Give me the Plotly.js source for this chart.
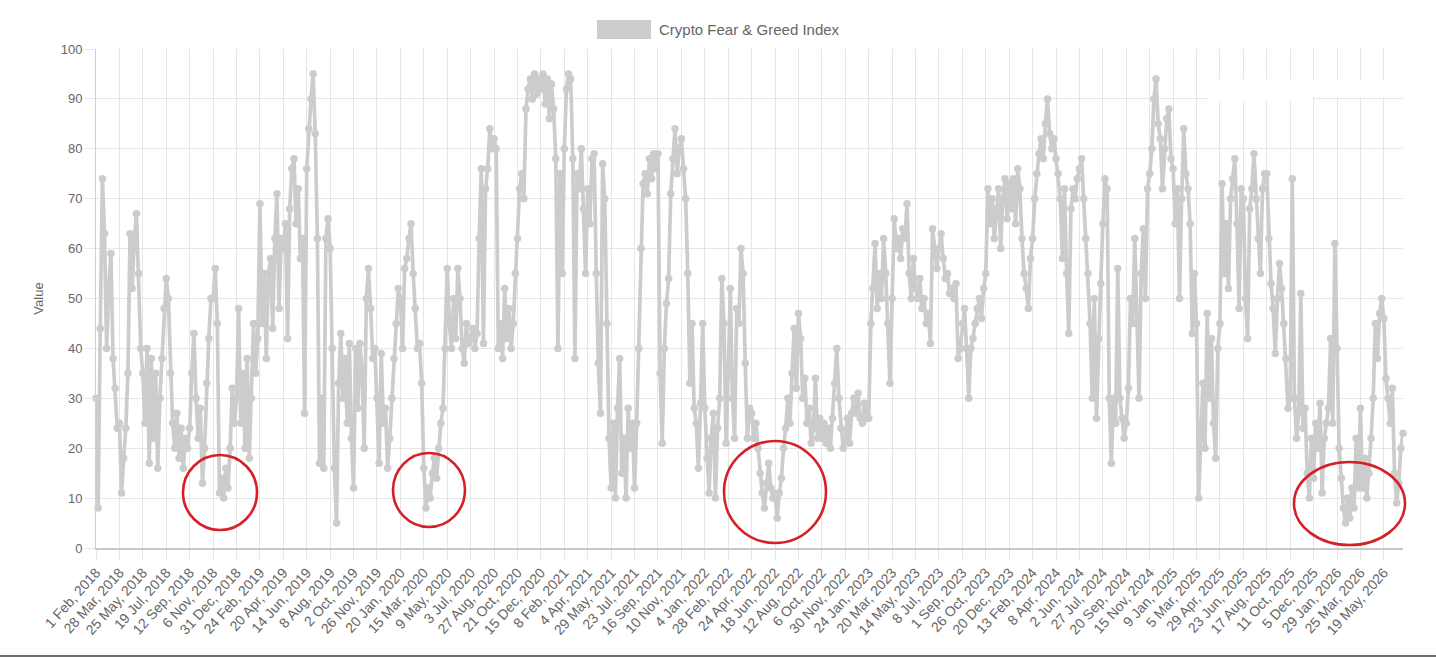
<!DOCTYPE html>
<html>
<head>
<meta charset="utf-8">
<script src="https://cdn.plot.ly/plotly-3.0.1.min.js"></script>
<style>
html,body{margin:0;padding:0;background:#fff;}
#chart{width:1436px;height:657px;}
</style>
</head>
<body>
<div id="chart"></div>
<script>
// Tick labels (one every 55 daily points)
const tickLabels = [
 "1 Feb, 2018","28 Mar, 2018","25 May, 2018","19 Jul, 2018","12 Sep, 2018","6 Nov, 2018","31 Dec, 2018",
 "24 Feb, 2019","20 Apr, 2019","14 Jun, 2019","8 Aug, 2019","2 Oct, 2019","26 Nov, 2019",
 "20 Jan, 2020","15 Mar, 2020","9 May, 2020","3 Jul, 2020","27 Aug, 2020","21 Oct, 2020","15 Dec, 2020",
 "8 Feb, 2021","4 Apr, 2021","29 May, 2021","23 Jul, 2021","16 Sep, 2021","10 Nov, 2021",
 "4 Jan, 2022","28 Feb, 2022","24 Apr, 2022","18 Jun, 2022","12 Aug, 2022","6 Oct, 2022","30 Nov, 2022",
 "24 Jan, 2023","20 Mar, 2023","14 May, 2023","8 Jul, 2023","1 Sep, 2023","26 Oct, 2023","20 Dec, 2023",
 "13 Feb, 2024","8 Apr, 2024","2 Jun, 2024","27 Jul, 2024","20 Sep, 2024","15 Nov, 2024",
 "9 Jan, 2025","5 Mar, 2025","29 Apr, 2025","23 Jun, 2025","17 Aug, 2025","11 Oct, 2025","5 Dec, 2025",
 "29 Jan, 2026","25 Mar, 2026","19 May, 2026"
];
const pointsPerTick = 55;   // daily points between labelled ticks
const sampleStep = 5;       // values below are read every 5th day
const lastPoint = 3070;     // index of the last daily point

// Index value, every 5 days (11 readings per tick interval)
const values2018 = [
 30, 8, 44, 74, 63, 40, 52, 59, 38, 32, 24,
 25, 11, 18, 24, 35, 63, 52, 62, 67, 55, 40,
 35, 25, 40, 17, 38, 22, 35, 16, 30, 38, 48,
 54, 50, 35, 25, 20, 27, 18, 24, 16, 22, 20,
 24, 35, 43, 30, 22, 28, 13, 20, 33, 42, 50,
 50, 56, 45, 11, 14, 10, 16, 12, 20, 32, 25,
 30, 48, 25, 35, 20, 38, 18, 30, 45, 35, 42
];
const values2019 = [
 69, 45, 55, 38, 55, 58, 44, 62, 71, 48, 62,
 60, 65, 42, 68, 76, 78, 65, 72, 58, 62, 27,
 76, 84, 90, 95, 83, 62, 17, 30, 16, 62, 66,
 60, 40, 16, 5, 33, 43, 30, 38, 25, 41, 22,
 12, 40, 28, 41, 35, 20, 50, 56, 48, 38, 40,
 30, 17, 39, 25, 28, 16, 22, 30, 38, 45, 52
];
const values2020 = [
 50, 40, 56, 58, 62, 65, 55, 48, 40, 41, 33,
 16, 8, 12, 10, 15, 18, 14, 20, 25, 28, 40,
 56, 45, 40, 50, 42, 56, 50, 40, 37, 45, 41,
 42, 44, 40, 43, 62, 76, 41, 72, 76, 84, 80,
 82, 80, 40, 45, 38, 52, 42, 48, 40, 45, 55,
 62, 72, 75, 70, 88, 92, 94, 90, 95, 91, 94,
 92, 95, 89, 94, 86, 93, 88, 78, 40, 75, 55
];
const values2021 = [
 80, 92, 95, 94, 78, 38, 75, 72, 80, 68, 55,
 72, 65, 78, 79, 55, 37, 27, 77, 70, 45, 22,
 12, 25, 10, 28, 38, 15, 22, 10, 28, 20, 25,
 12, 25, 40, 60, 73, 75, 71, 78, 74, 79, 76,
 79, 35, 21, 40, 49, 54, 71, 78, 84, 75, 80,
 82, 76, 70, 55, 33, 45, 28, 25, 16, 29, 45
];
const values2022 = [
 28, 18, 11, 22, 27, 10, 24, 30, 54, 45, 21,
 35, 52, 30, 22, 48, 45, 60, 55, 37, 22, 28,
 27, 22, 25, 20, 15, 11, 8, 13, 17, 12, 10,
 11, 6, 11, 14, 20, 24, 30, 25, 35, 44, 32,
 47, 42, 30, 34, 25, 28, 21, 24, 34, 22, 26,
 22, 25, 21, 24, 20, 26, 33, 40, 30, 24, 20,
 22, 26, 21, 27, 30, 27, 31, 26, 25, 29, 26
];
const values2023 = [
 26, 45, 52, 61, 48, 55, 50, 62, 55, 45, 33,
 50, 66, 60, 62, 58, 64, 62, 69, 55, 50, 58,
 52, 50, 54, 48, 50, 45, 47, 41, 64, 60, 56,
 60, 63, 58, 54, 55, 51, 52, 50, 53, 38, 40,
 45, 48, 40, 30, 40, 42, 45, 48, 50, 46, 52,
 55, 72, 65, 70, 62, 68, 72, 60, 70, 74, 66,
 73, 68, 74, 65, 76, 72, 62, 55, 52, 48, 58
];
const values2024 = [
 62, 70, 75, 79, 82, 78, 85, 90, 83, 80, 82,
 78, 75, 70, 58, 72, 55, 43, 68, 72, 70, 74,
 76, 78, 70, 62, 55, 45, 30, 50, 26, 42, 53,
 65, 74, 72, 30, 17, 30, 25, 56, 30, 26, 22,
 25, 32, 50, 45, 62, 45, 30, 55, 64, 50, 72,
 75, 80, 90, 94, 85, 82, 72, 80, 86, 88, 78
];
const values2025 = [
 76, 65, 72, 50, 70, 84, 75, 72, 65, 43, 55,
 45, 10, 22, 33, 20, 47, 30, 42, 25, 18, 40,
 45, 73, 55, 65, 52, 70, 74, 78, 65, 48, 72,
 70, 50, 42, 68, 72, 79, 70, 62, 55, 72, 75,
 75, 62, 53, 48, 39, 50, 57, 52, 45, 38, 28,
 30, 74, 30, 22, 27, 51, 24, 28, 15, 10, 22,
 14, 25, 20, 29, 11, 22, 25, 28, 42, 25, 61
];
const values2026 = [
 40, 20, 14, 8, 5, 10, 6, 12, 8, 22, 12,
 28, 12, 18, 10, 15, 22, 30, 45, 38, 47, 50,
 46, 34, 30, 25, 32, 15, 9, 13, 20, 23
];

const values = [].concat(values2018, values2019, values2020, values2021,
                         values2022, values2023, values2024, values2025, values2026);
const xIdx = values.map((v, i) => i * sampleStep);
const tickVals = tickLabels.map((t, i) => i * pointsPerTick);

// page geometry (pixels) -> paper coords helpers for decorations
const W = 1436, H = 657, L = 96, R = 33, T = 49, B = 109;
const PW = W - L - R, PH = H - T - B;
const px = x => (x - L) / PW;
const py = y => (H - B - y) / PH;

const gray = 'rgb(204,204,204)';
const red = 'rgb(214,32,40)';

const trace = {
  type: 'scatter',
  mode: 'lines+markers',
  x: xIdx,
  y: values,
  name: 'Crypto Fear & Greed Index',
  line: {color: gray, width: 3.7},
  marker: {color: gray, size: 7.5},
  cliponaxis: false,
  hoverinfo: 'skip'
};

function circle(x0, x1, y0, y1) {
  return {type: 'circle', xref: 'paper', yref: 'paper',
    x0: px(x0), x1: px(x1), y0: py(y1), y1: py(y0),
    line: {color: red, width: 2.6}, layer: 'above'};
}

const layout = {
  width: W, height: H,
  margin: {l: L, r: R, t: T, b: B},
  paper_bgcolor: '#ffffff',
  plot_bgcolor: '#ffffff',
  showlegend: false,
  font: {family: '"Liberation Sans", Arial, Helvetica, sans-serif', color: '#666666', size: 13},
  xaxis: {
    range: [0, lastPoint],
    tickvals: tickVals,
    ticktext: tickLabels,
    tickangle: -48,
    tickfont: {size: 14, color: '#666666'},
    showgrid: true, gridcolor: '#e6e6e6', gridwidth: 1,
    ticks: 'outside', ticklen: 9, tickcolor: '#e6e6e6',
    showline: true, linecolor: '#c8c8c8', linewidth: 2,
    zeroline: false, fixedrange: true, automargin: false
  },
  yaxis: {
    range: [0, 100],
    dtick: 10, tick0: 0,
    tickfont: {size: 13, color: '#666666'},
    showgrid: true, gridcolor: '#e6e6e6', gridwidth: 1,
    ticks: 'outside', ticklen: 10, tickcolor: '#e6e6e6',
    showline: true, linecolor: '#cfcfcf', linewidth: 1,
    zeroline: false, fixedrange: true, automargin: false,
    title: {text: 'Value', font: {size: 13, color: '#666666'}, standoff: 14}
  },
  shapes: [
    // legend swatch
    {type: 'rect', xref: 'paper', yref: 'paper', x0: px(597), x1: px(651), y0: py(39), y1: py(20),
     fillcolor: gray, line: {width: 0}},
    // white patch in the upper right of the plot
    {type: 'rect', xref: 'paper', yref: 'paper', x0: px(1197), x1: px(1402), y0: py(97), y1: py(79),
     fillcolor: '#ffffff', line: {width: 0}, layer: 'above'},
    {type: 'rect', xref: 'paper', yref: 'paper', x0: px(1207), x1: px(1313), y0: py(101), y1: py(96),
     fillcolor: '#ffffff', line: {width: 0}, layer: 'above'},
    // red circles
    circle(183, 257, 455, 530),
    circle(393, 465, 453, 527),
    circle(724, 826, 441, 543),
    circle(1294, 1405, 462, 545),
    // bottom border
    {type: 'line', xref: 'paper', yref: 'paper', x0: px(0), x1: px(W), y0: py(656), y1: py(656),
     line: {color: '#6e6e6e', width: 2}}
  ],
  annotations: [
    {xref: 'paper', yref: 'paper', x: px(657), y: py(29.5), xanchor: 'left', yanchor: 'middle',
     text: 'Crypto Fear & Greed Index', showarrow: false, font: {size: 15, color: '#666666'}}
  ]
};

Plotly.newPlot('chart', [trace], layout, {staticPlot: true, displayModeBar: false});
</script>
</body>
</html>
